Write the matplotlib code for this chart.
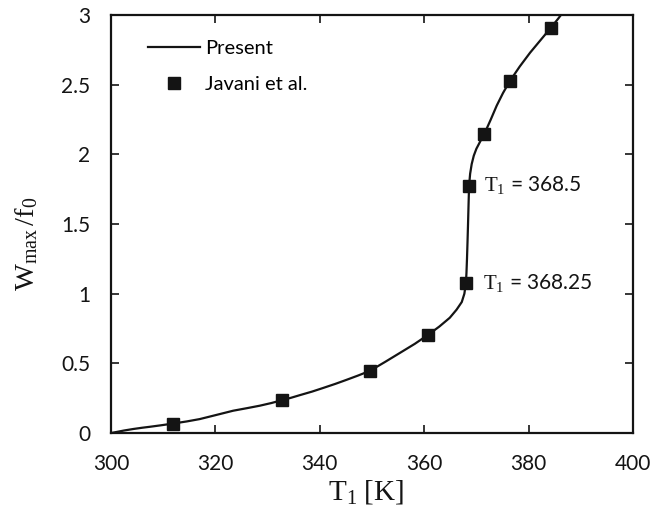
import matplotlib
matplotlib.use("Agg")
import matplotlib.pyplot as plt

# Reference data (Javani et al.) markers
marker_T = [311.9, 332.7, 349.6, 360.8, 368.0, 368.6, 371.5, 376.4, 384.3]
marker_W = [0.068, 0.235, 0.446, 0.706, 1.079, 1.775, 2.145, 2.525, 2.91]

# Present curve
curve_T = [300.0, 301.0, 302.5, 304.3, 306.0, 307.5, 309.5, 311.9, 314.5, 317.0,
           320.0, 323.4, 326.0, 328.5, 330.7, 332.7, 334.5, 336.2, 338.5, 340.7,
           343.0, 345.0, 347.3, 349.6, 352.5, 355.4, 358.2, 360.8, 362.9, 364.9,
           366.2, 367.2, 367.7, 368.0, 368.1, 368.2, 368.3, 368.4, 368.5, 368.6,
           368.8, 369.1, 369.5, 370.0, 370.7, 371.5, 372.7, 373.9, 375.1, 376.4,
           378.3, 380.3, 382.3, 384.3, 385.7, 386.2]
curve_W = [0.0, 0.007, 0.018, 0.029, 0.038, 0.045, 0.055, 0.068, 0.083, 0.100,
           0.128, 0.160, 0.178, 0.196, 0.215, 0.235, 0.253, 0.272, 0.297, 0.324,
           0.353, 0.380, 0.412, 0.446, 0.510, 0.576, 0.640, 0.706, 0.764, 0.827,
           0.885, 0.940, 1.000, 1.079, 1.150, 1.250, 1.370, 1.500, 1.640, 1.775,
           1.860, 1.930, 1.990, 2.040, 2.090, 2.145, 2.245, 2.350, 2.440, 2.525,
           2.630, 2.730, 2.820, 2.910, 2.975, 3.000]

x_ticks = [300, 320, 340, 360, 380, 400]
y_ticks = [0, 0.5, 1, 1.5, 2, 2.5, 3]
y_tick_labels = ["0", "0.5", "1", "1.5", "2", "2.5", "3"]

plt.rcParams['mathtext.fontset'] = 'custom'
plt.rcParams['mathtext.rm'] = 'Liberation Serif'
plt.rcParams['mathtext.it'] = 'Liberation Serif:italic'

sans = 'Lato'
col = '#141414'

fig = plt.figure(figsize=(6.5, 5.15), dpi=100)
ax = fig.add_axes([0.1708, 0.1592, 0.8030, 0.8117])

ax.plot(curve_T, curve_W, color=col, lw=1.6, label='Present', solid_joinstyle='round')
ax.plot(marker_T, marker_W, ls='none', marker='s', ms=8.5, color=col, label='Javani et al.')

ax.set_xlim(300, 400)
ax.set_ylim(0, 3)
ax.set_xticks(x_ticks)
ax.set_xticklabels([str(t) for t in x_ticks], fontfamily=sans, fontsize=15)
ax.set_yticks(y_ticks)
ax.set_yticklabels(y_tick_labels, fontfamily=sans, fontsize=15)
ax.tick_params(direction='in', top=True, right=True, length=6, width=1.2, colors=col)
ax.tick_params(axis='x', pad=15)
ax.tick_params(axis='y', pad=15)
for s in ax.spines.values():
    s.set_linewidth(1.6)
    s.set_color(col)

ax.set_xlabel(r'$\mathrm{T_1\ [K]}$', fontsize=21, color=col, labelpad=2)
ax.xaxis.set_label_coords(0.488, -0.108)
ax.set_ylabel(r'$\mathrm{W_{max}\,/f_0}$', fontsize=20.5, color=col)
ax.yaxis.set_label_coords(-0.135, 0.452)

ax.text(371.5, 1.78, r'$\mathrm{T_1}$ = 368.5', fontfamily=sans, fontsize=15,
        va='center', ha='left', color=col)
ax.text(371.3, 1.08, r'$\mathrm{T_1}$ = 368.25', fontfamily=sans, fontsize=15,
        va='center', ha='left', color=col)

leg = ax.legend(loc='upper left', bbox_to_anchor=(0.07, 0.94), frameon=False,
                prop={'family': sans, 'size': 14.5}, handlelength=2.6, handletextpad=0.25,
                labelspacing=0.92, borderpad=0, borderaxespad=0)

fig.savefig('out.png', dpi=100)
